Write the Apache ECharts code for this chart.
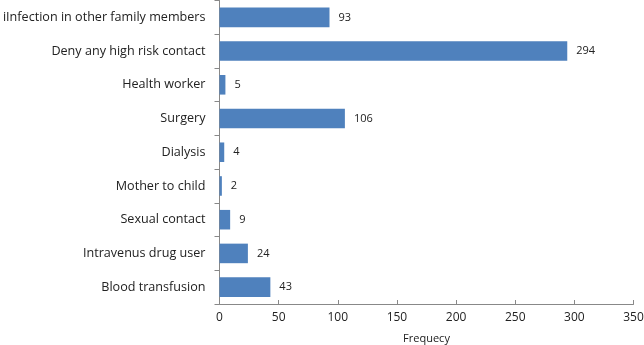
<!DOCTYPE html>
<html>
<head>
<meta charset="utf-8">
<script src="https://cdn.jsdelivr.net/npm/echarts@6/dist/echarts.min.js"></script>
<style>
html, body { margin: 0; padding: 0; background: #fff; }
#chart { width: 644px; height: 345px; }
</style>
</head>
<body>
<div id="chart"></div>
<script>
// categories listed bottom -> top (category axis starts at the bottom)
var categories = ['Blood transfusion', 'Intravenus drug user', 'Sexual contact', 'Mother to child',
    'Dialysis', 'Surgery', 'Health worker', 'Deny any high risk contact', 'iInfection in other family members'];
var frequency = [43, 24, 9, 2, 4, 106, 5, 294, 93];
var xTicks = { min: 0, max: 350, interval: 50 };

var chart = echarts.init(document.getElementById('chart'));
var font = '"Open Sans", "Liberation Sans", sans-serif';
var option = {
    animation: false,
    grid: { left: 219.5, right: 10.5, top: 0.5, bottom: 41, containLabel: false, outerBoundsMode: 'none' },
    xAxis: {
        type: 'value',
        min: xTicks.min,
        max: xTicks.max,
        interval: xTicks.interval,
        name: 'Frequecy',
        nameLocation: 'middle',
        nameGap: 29,
        nameTextStyle: { color: '#222', fontSize: 11, fontFamily: font },
        axisLine: { show: true, lineStyle: { color: '#888', width: 1 } },
        axisTick: { show: true, inside: true, length: 4, lineStyle: { color: '#888' } },
        axisLabel: { color: '#222', fontSize: 12, fontFamily: font, margin: 8 },
        splitLine: { show: false }
    },
    yAxis: {
        type: 'category',
        data: categories,
        axisLine: { show: true, lineStyle: { color: '#888', width: 1 } },
        axisTick: { show: true, length: 5, lineStyle: { color: '#888' } },
        axisLabel: { color: '#222', fontSize: 12.6, fontFamily: font, margin: 14 }
    },
    series: [{
        type: 'bar',
        data: frequency,
        barCategoryGap: '42%',
        itemStyle: { color: '#4F81BD' },
        label: {
            show: true,
            position: 'right',
            distance: 9,
            color: '#222',
            fontSize: 11,
            fontFamily: font
        }
    }]
};
chart.setOption(option);
</script>
</body>
</html>
